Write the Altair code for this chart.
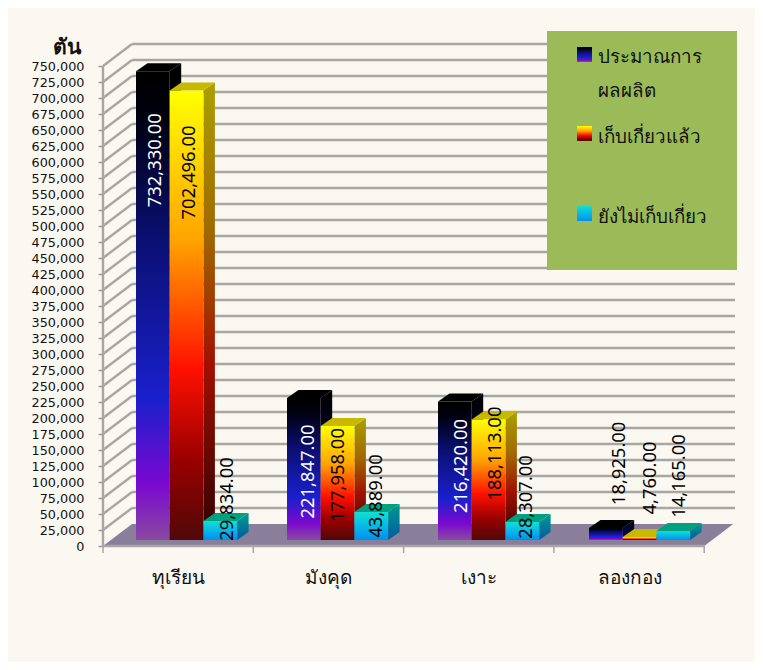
import altair as alt
import pandas as pd

# ---------- data ----------
categories = ["ทุเรียน", "มังคุด", "เงาะ", "ลองกอง"]
series_names = ["ประมาณการ", "เก็บเกี่ยวแล้ว", "ยังไม่เก็บเกี่ยว"]
produced = [732330, 221847, 216420, 18925]
harvested = [702496, 177958, 188113, 4760]
remaining = [29834, 43889, 28307, 14165]
y_ticks = list(range(0, 750001, 25000))
x_ticks = [0, 1, 2, 3, 4]

# ---------- layout (pixels on the plot area) ----------
W, H = 632, 502
PX_X = 150.3            # px per category
PX_Y = 0.64 / 1000      # px per tonne
FONT = "Noto Sans"
WALL_DX, WALL_DY = 29 / PX_X, 22 / PX_Y
BAR_BASE = 6 / PX_Y
BAR_DX, BAR_DY = 11.5 / PX_X, 8 / PX_Y
BAR_START, BAR_W = 33 / PX_X, 33.7 / PX_X
GROUP_STEP = 151 / PX_X
Y_MAX = H / PX_Y
X_MAX = W / PX_X

# hand-placed label nudges from the source: (px right of bar centre, px below bar top)
NUDGE = {
    0: [(2, 89), (4, 73.5), (6, 64.5), (13, -64.5)],
    1: [(2, 82), (0, 49), (6, 34), (10, -59)],
    2: [(7, -22), (5, -16), (4, -25), (6, -55)],
}

values = [produced, harvested, remaining]
bars, sides, tops, labels = [], [], [], []
for s, vals in enumerate(values):
    for c, v in enumerate(vals):
        x0 = c * GROUP_STEP + BAR_START + s * BAR_W
        x1 = x0 + BAR_W
        top = BAR_BASE + v
        key = f"{s}-{c}"
        bars.append(dict(s=s, key=key, x0=x0, x1=x1, base=BAR_BASE, top=top))
        sides.append(dict(s=s, key=key, x=x1, lo=BAR_BASE, hi=top))
        sides.append(dict(s=s, key=key, x=x1 + BAR_DX, lo=BAR_BASE + BAR_DY, hi=top + BAR_DY))
        tops.append(dict(s=s, key=key, y=top, xa=x0, xb=x1))
        tops.append(dict(s=s, key=key, y=top + BAR_DY, xa=x0 + BAR_DX, xb=x1 + BAR_DX))
        nx, ny = NUDGE[s][c]
        labels.append(dict(s=s, value=v, text=f"{v:,.2f}",
                           x=(x0 + x1) / 2 + nx / PX_X, y=top - ny / PX_Y))
bars, sides, tops, labels = map(pd.DataFrame, (bars, sides, tops, labels))


def grad(*stops):
    return alt.Gradient(gradient="linear", x1=0, x2=0, y1=0, y2=1,
                        stops=[alt.GradientStop(offset=o, color=c) for o, c in stops])


FRONT = [
    grad((0, "#000000"), (.1, "#00000f"), (.35, "#0a0f70"), (.7, "#1a20cc"), (.88, "#7a08d0"), (1, "#8a4aa0")),
    grad((0, "#ffff00"), (.33, "#ffa500"), (.62, "#ff1000"), (.82, "#9a0000"), (1, "#500808")),
    grad((0, "#10e0d0"), (.5, "#08b8e8"), (1, "#0090f0")),
]
SIDE = [
    grad((0, "#000000"), (.4, "#050530"), (1, "#100050")),
    grad((0, "#aaa000"), (.33, "#a06800"), (.62, "#a01000"), (1, "#300000")),
    grad((0, "#009a90"), (1, "#005aa0")),
]
TOP = ["#000000", "#c8b800", "#00a080"]

xs = alt.Scale(domain=[0, X_MAX], range=[0, W], nice=False, zero=False)
ys = alt.Scale(domain=[0, Y_MAX], range=[H, 0], nice=False, zero=False)

label_expr = "{0.5:'%s',1.5:'%s',2.5:'%s',3.5:'%s'}[datum.value]" % tuple(categories)
X_AXIS = alt.Axis(
    values=[0.5, 1.5, 2.5, 3.5], labelExpr=label_expr, ticks=False, domain=False, grid=False,
    labelFont=FONT, labelFontSize=19, labelColor="#111111", labelPadding=22, labelFlush=False)
Y_AXIS = alt.Axis(
    values=y_ticks, format=",.0f", domain=False, grid=False, tickSize=5, tickColor="#999999",
    tickWidth=1.5, labelFont="DejaVu Sans", labelFontSize=12.8, labelColor="#111111", labelPadding=14,
    labelOverlap=False, titleAngle=0, titleX=-37, titleY=3, titleAlign="center",
    titleBaseline="middle", titleFont=FONT, titleFontSize=21, titleFontWeight="bold",
    titleColor="#111111")


def X(f):
    return alt.X(f, type="quantitative", scale=xs, axis=X_AXIS, title=None)


def Y(f):
    return alt.Y(f, type="quantitative", scale=ys, axis=Y_AXIS, title="ตัน", stack=None)


# wall and floor
wall = pd.DataFrame({"v": y_ticks[1:]})
wall["vb"] = wall.v + WALL_DY
wall["x0"] = 0.0
wall["xd"] = WALL_DX
wall["xe"] = X_MAX
LINE = "#a6a6a2"
LW = 2.4
diag = alt.Chart(wall).mark_rule(color=LINE, strokeWidth=LW).encode(
    x=X("x0"), x2="xd", y=Y("v"), y2="vb")
horiz = alt.Chart(wall).mark_rule(color=LINE, strokeWidth=LW).encode(
    x=X("xd"), x2="xe", y=Y("vb"))
floor_df = pd.DataFrame({"y": [0, WALL_DY], "a": [0, WALL_DX], "b": [4, 4 + WALL_DX]})
floor = alt.Chart(floor_df).mark_area(orient="horizontal", color="#8a7f9a").encode(
    y=Y("y"), x=X("a"), x2="b")
front_edge = alt.Chart(pd.DataFrame({"a": [0], "b": [4], "y": [0]})).mark_rule(color=LINE, strokeWidth=LW).encode(
    x=X("a"), x2="b", y=Y("y"))
y_line = alt.Chart(pd.DataFrame({"x": [0], "a": [0], "b": [750000]})).mark_rule(color=LINE, strokeWidth=LW).encode(
    x=X("x"), y=Y("a"), y2="b")
x_tick_marks = alt.Chart(pd.DataFrame({"x": x_ticks})).mark_rule(color=LINE, strokeWidth=1.5).encode(
    x=X("x"), y=alt.value(H), y2=alt.value(H + 7))

# bars
layers = [horiz, diag, floor, front_edge, y_line, x_tick_marks]
for s in range(3):
    layers.append(alt.Chart(sides[sides.s == s]).mark_area(color=SIDE[s]).encode(
        x=X("x"), y=Y("hi"), y2="lo", detail="key:N"))
    layers.append(alt.Chart(tops[tops.s == s]).mark_area(orient="horizontal", color=TOP[s]).encode(
        y=Y("y"), x=X("xa"), x2="xb", detail="key:N"))
    layers.append(alt.Chart(bars[bars.s == s]).mark_rect(color=FRONT[s]).encode(
        x=X("x0"), x2="x1", y=Y("base"), y2="top"))

# data labels
layers.append(alt.Chart(labels).mark_text(
    angle=270, align="center", baseline="middle", font=FONT, fontSize=18.4).encode(
    x=X("x"), y=Y("y"), text="text:N",
    color=alt.when("datum.s == 0 && datum.value > 100000").then(alt.value("#ffffff")).otherwise(alt.value("#000000")),
))

# legend panel
OX, OY = 103, 44   # page position of the plot origin
panel = alt.Chart(pd.DataFrame({"a": [0]})).mark_rect(color="#9bbb59").encode(
    x=alt.value(547 - OX), x2=alt.value(737 - OX), y=alt.value(31 - OY), y2=alt.value(270 - OY))
layers.append(panel)
for s, y in enumerate([47, 126, 206]):
    layers.append(alt.Chart(pd.DataFrame({"a": [0]})).mark_rect(color=FRONT[s]).encode(
        x=alt.value(577 - OX), x2=alt.value(592 - OX), y=alt.value(y - OY), y2=alt.value(y + 15 - OY)))
legend_lines = [("ประมาณการ", 57), ("ผลผลิต", 91), ("เก็บเกี่ยวแล้ว", 137), ("ยังไม่เก็บเกี่ยว", 217)]
for txt, y in legend_lines:
    layers.append(alt.Chart(pd.DataFrame({"t": [txt]})).mark_text(
        align="left", baseline="middle", font=FONT, fontSize=18.8, color="#111111").encode(
        x=alt.value(598 - OX), y=alt.value(y - OY), text="t:N"))

chart = alt.layer(*layers).properties(
    width=W, height=H,
    padding={"left": OX - 8, "top": OY - 8, "right": 20, "bottom": 116},
    autosize=alt.AutoSizeParams(type="none"),
    background="#fbf8f1",
).configure_view(stroke=None)

chart.save("out.html", embed_options={"renderer": "svg", "actions": False})
